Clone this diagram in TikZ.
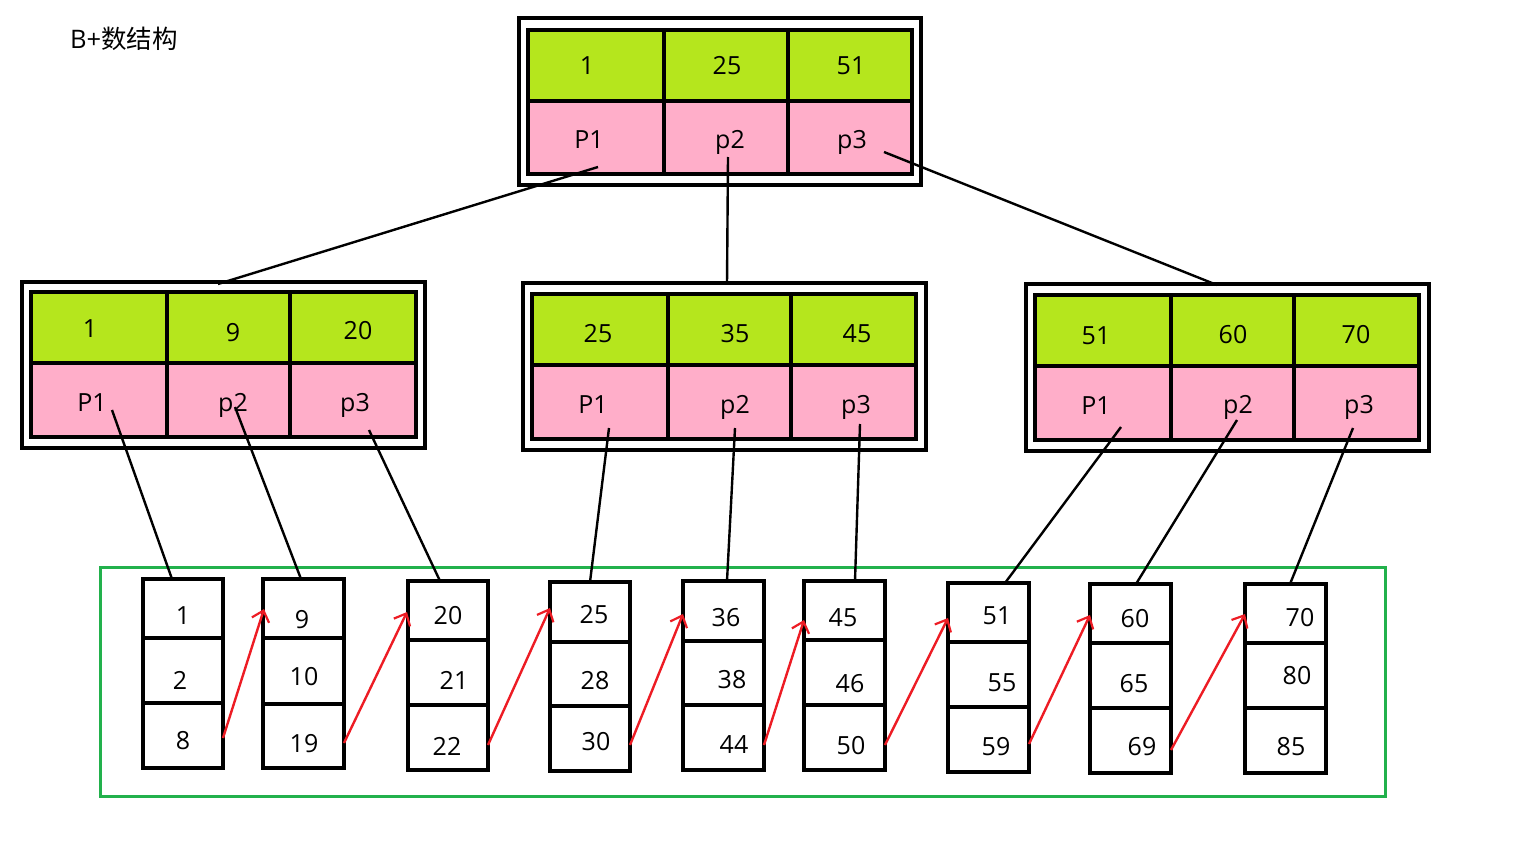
\documentclass[tikz,border=0pt]{standalone}
\usepackage{fontspec}
\setmainfont{Open Sans}
\newfontfamily\cjk{Noto Sans CJK SC}
\usetikzlibrary{arrows.meta}
\definecolor{keyg}{HTML}{B5E61D}
\definecolor{ptrp}{HTML}{FFAEC9}
\definecolor{frameg}{HTML}{22B14C}
\definecolor{arr}{HTML}{ED1C24}
\begin{document}
\begin{tikzpicture}[x=1pt,y=-1pt,
  lbl/.style={font=\fontsize{25}{28}\selectfont, inner sep=0pt, text height=18pt, text depth=0pt},
  bord/.style={line width=3.6pt, black},
  link/.style={line width=2.4pt, black},
  nxt/.style={line width=2.4pt, arr, -{Straight Barb[length=10pt,width=18pt,line width=2.2pt]}}]
\useasboundingbox (0,0) rectangle (1536,864);

% title
\node[font=\fontsize{25.5}{28}\selectfont, inner sep=0pt, anchor=west] (title) at (70,39) {B+{\cjk 数结构}};

% ---------- root ----------
\draw[bord] (519,18) rectangle (921,185);
\fill[keyg] (528,30) rectangle (912,101);
\fill[ptrp] (528,101) rectangle (912,174);
\draw[bord] (528,30) rectangle (912,174) (528,101) -- (912,101) (664,30) -- (664,174) (788,30) -- (788,174);
\node[lbl] (r-k1) at (587,66) {1};
\node[lbl] (r-k2) at (727,66) {25};
\node[lbl] (r-k3) at (851,66) {51};
\node[lbl] (r-p1) at (589,139) {P1};
\node[lbl] (r-p2) at (730,139) {p2};
\node[lbl] (r-p3) at (852,139) {p3};

% ---------- left internal ----------
\draw[bord] (22,282) rectangle (425,448);
\fill[keyg] (31,292) rectangle (416,363);
\fill[ptrp] (31,363) rectangle (416,437);
\draw[bord] (31,292) rectangle (416,437) (31,363) -- (416,363) (167,292) -- (167,437) (290,292) -- (290,437);
\node[lbl] (a-k1) at (90,328) {1};
\node[lbl] (a-k2) at (233,332) {9};
\node[lbl] (a-k3) at (358,330) {20};
\node[lbl] (a-p1) at (92,402) {P1};
\node[lbl] (a-p2) at (233,402) {p2};
\node[lbl] (a-p3) at (355,402) {p3};

% ---------- middle internal ----------
\draw[bord] (523,283) rectangle (926,450);
\fill[keyg] (532,294) rectangle (916,365);
\fill[ptrp] (532,365) rectangle (916,439);
\draw[bord] (532,294) rectangle (916,439) (532,365) -- (916,365) (668,294) -- (668,439) (791,294) -- (791,439);
\node[lbl] (b-k1) at (598,333) {25};
\node[lbl] (b-k2) at (735,333) {35};
\node[lbl] (b-k3) at (857,333) {45};
\node[lbl] (b-p1) at (593,404) {P1};
\node[lbl] (b-p2) at (735,404) {p2};
\node[lbl] (b-p3) at (856,404) {p3};

% ---------- right internal ----------
\draw[bord] (1026,284) rectangle (1429,451);
\fill[keyg] (1035,295) rectangle (1419,366);
\fill[ptrp] (1035,366) rectangle (1419,440);
\draw[bord] (1035,295) rectangle (1419,440) (1035,366) -- (1419,366) (1171,295) -- (1171,440) (1294,295) -- (1294,440);
\node[lbl] (c-k1) at (1096,335) {51};
\node[lbl] (c-k2) at (1233,334) {60};
\node[lbl] (c-k3) at (1356,334) {70};
\node[lbl] (c-p1) at (1096,405) {P1};
\node[lbl] (c-p2) at (1238,404) {p2};
\node[lbl] (c-p3) at (1359,404) {p3};

% ---------- leaf frame ----------
\draw[frameg, line width=3pt] (100,567) rectangle (1385,796);

% ---------- leaves ----------
% leaf 1
\draw[bord] (143,579) rectangle (223,768) (143,638) -- (223,638) (143,703) -- (223,703);
\node[lbl] (l1-a) at (183,615) {1};
\node[lbl] (l1-b) at (180,680) {2};
\node[lbl] (l1-c) at (183,740) {8};
% leaf 2
\draw[bord] (263,579) rectangle (344,768) (263,638) -- (344,638) (263,704) -- (344,704);
\node[lbl] (l2-a) at (302,619) {9};
\node[lbl] (l2-b) at (304,676) {10};
\node[lbl] (l2-c) at (304,743) {19};
% leaf 3
\draw[bord] (408,581) rectangle (488,770) (408,640) -- (488,640) (408,705) -- (488,705);
\node[lbl] (l3-a) at (448,615) {20};
\node[lbl] (l3-b) at (454,680) {21};
\node[lbl] (l3-c) at (447,746) {22};
% leaf 4
\draw[bord] (550,582) rectangle (630,771) (550,642) -- (630,642) (550,706) -- (630,706);
\node[lbl] (l4-a) at (594,614) {25};
\node[lbl] (l4-b) at (595,680) {28};
\node[lbl] (l4-c) at (596,741) {30};
% leaf 5
\draw[bord] (683,581) rectangle (764,770) (683,641) -- (764,641) (683,705) -- (764,705);
\node[lbl] (l5-a) at (726,617) {36};
\node[lbl] (l5-b) at (732,679) {38};
\node[lbl] (l5-c) at (734,744) {44};
% leaf 6
\draw[bord] (804,581) rectangle (885,770) (804,640) -- (885,640) (804,705) -- (885,705);
\node[lbl] (l6-a) at (843,617) {45};
\node[lbl] (l6-b) at (850,683) {46};
\node[lbl] (l6-c) at (851,745) {50};
% leaf 7
\draw[bord] (948,583) rectangle (1029,772) (948,642) -- (1029,642) (948,707) -- (1029,707);
\node[lbl] (l7-a) at (997,615) {51};
\node[lbl] (l7-b) at (1002,682) {55};
\node[lbl] (l7-c) at (996,746) {59};
% leaf 8
\draw[bord] (1090,584) rectangle (1171,773) (1090,643) -- (1171,643) (1090,708) -- (1171,708);
\node[lbl] (l8-a) at (1135,618) {60};
\node[lbl] (l8-b) at (1134,683) {65};
\node[lbl] (l8-c) at (1142,746) {69};
% leaf 9
\draw[bord] (1245,584) rectangle (1326,773) (1245,643) -- (1326,643) (1245,708) -- (1326,708);
\node[lbl] (l9-a) at (1300,617) {70};
\node[lbl] (l9-b) at (1297,675) {80};
\node[lbl] (l9-c) at (1291,746) {85};

% ---------- connector end points ----------
\coordinate (r-o1) at (598,167);
\coordinate (r-o2) at (728,157);
\coordinate (r-o3) at (884,152);
\coordinate (a-in) at (218,284);
\coordinate (b-in) at (727,284);
\coordinate (c-in) at (1217,285);
\coordinate (a-o1) at (112,410);
\coordinate (a-o2) at (235,407);
\coordinate (a-o3) at (369,430);
\coordinate (b-o1) at (609,428);
\coordinate (b-o2) at (735,428);
\coordinate (b-o3) at (860,424);
\coordinate (c-o1) at (1121,427);
\coordinate (c-o2) at (1237,420);
\coordinate (c-o3) at (1353,428);
\coordinate (l1-in) at (172,579);
\coordinate (l2-in) at (301,579);
\coordinate (l3-in) at (440,581);
\coordinate (l4-in) at (590,582);
\coordinate (l5-in) at (727,581);
\coordinate (l6-in) at (855,581);
\coordinate (l7-in) at (1005,583);
\coordinate (l8-in) at (1136,584);
\coordinate (l9-in) at (1290,584);

\draw[link] (r-o1) -- (a-in);
\draw[link] (r-o2) -- (b-in);
\draw[link] (r-o3) -- (c-in);
\draw[link] (a-o1) -- (l1-in);
\draw[link] (a-o2) -- (l2-in);
\draw[link] (a-o3) -- (l3-in);
\draw[link] (b-o1) -- (l4-in);
\draw[link] (b-o2) -- (l5-in);
\draw[link] (b-o3) -- (l6-in);
\draw[link] (c-o1) -- (l7-in);
\draw[link] (c-o2) -- (l8-in);
\draw[link] (c-o3) -- (l9-in);

% ---------- sibling links ----------
\coordinate (l1-out) at (223,738);
\coordinate (l2-out) at (344,743);
\coordinate (l3-out) at (488,745);
\coordinate (l4-out) at (630,745);
\coordinate (l5-out) at (764,745);
\coordinate (l6-out) at (885,745);
\coordinate (l7-out) at (1029,744);
\coordinate (l8-out) at (1171,750);
\coordinate (l2-nx) at (264,609);
\coordinate (l3-nx) at (407,612);
\coordinate (l4-nx) at (550,608);
\coordinate (l5-nx) at (683,614);
\coordinate (l6-nx) at (804,620);
\coordinate (l7-nx) at (948,618);
\coordinate (l8-nx) at (1090,615);
\coordinate (l9-nx) at (1245,614);
\draw[nxt] (l1-out) -- (l2-nx);
\draw[nxt] (l2-out) -- (l3-nx);
\draw[nxt] (l3-out) -- (l4-nx);
\draw[nxt] (l4-out) -- (l5-nx);
\draw[nxt] (l5-out) -- (l6-nx);
\draw[nxt] (l6-out) -- (l7-nx);
\draw[nxt] (l7-out) -- (l8-nx);
\draw[nxt] (l8-out) -- (l9-nx);
\end{tikzpicture}
\end{document}
